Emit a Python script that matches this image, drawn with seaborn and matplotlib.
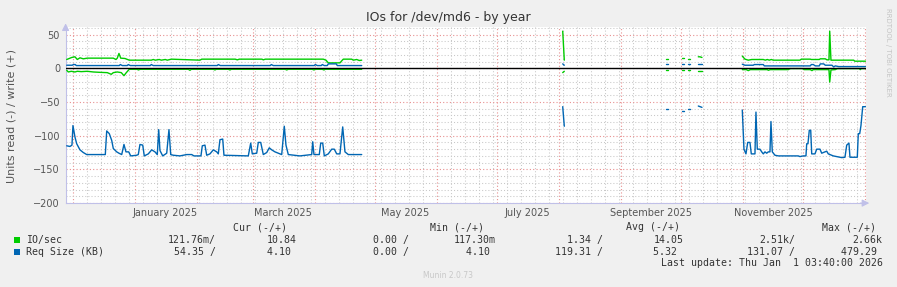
import matplotlib
matplotlib.use("Agg")
import matplotlib.pyplot as plt
import matplotlib.dates as mdates
from matplotlib.ticker import MultipleLocator
from matplotlib.patches import Rectangle
from matplotlib.transforms import blended_transform_factory
import seaborn as sns
import pandas as pd

# ---------------- data ----------------
title = "IOs for /dev/md6 - by year"
y_label = "Units read (-) / write (+)"
x_start = "2024-11-27 03:40"
x_end = "2026-01-01 03:40"
month_labels = ["January 2025", "March 2025", "May 2025",
                "July 2025", "September 2025", "November 2025"]
month_label_dates = ["2025-01-16", "2025-03-16", "2025-05-16",
                     "2025-07-16", "2025-09-16", "2025-11-16"]

# None marks a gap (unknown data) in the series
io_write = [
    ("2024-11-27 17:00", 13), ("2024-11-30 05:00", 16), ("2024-12-01 20:00", 17),
    ("2024-12-03 00:00", 13), ("2024-12-04 08:00", 15.5), ("2024-12-06 00:00", 14),
    ("2024-12-08 00:00", 15), ("2024-12-21 00:00", 15), ("2024-12-22 08:00", 13),
    ("2024-12-23 00:00", 15), ("2024-12-23 20:00", 22), ("2024-12-24 17:00", 15),
    ("2024-12-26 20:00", 14.5), ("2024-12-29 00:00", 12), ("2025-01-09 00:00", 12),
    ("2025-01-10 00:00", 13), ("2025-01-11 00:00", 12), ("2025-01-13 00:00", 13),
    ("2025-01-14 00:00", 12), ("2025-01-16 00:00", 13), ("2025-01-17 00:00", 12),
    ("2025-01-19 00:00", 13.5), ("2025-02-02 08:00", 12), ("2025-02-03 05:00", 13.5),
    ("2025-02-20 00:00", 13.5), ("2025-02-21 00:00", 12.5), ("2025-02-22 00:00", 13.5),
    ("2025-03-05 08:00", 13.5), ("2025-03-06 00:00", 12.5), ("2025-03-07 00:00", 13.5),
    ("2025-04-05 00:00", 13.5), ("2025-04-06 08:00", 12), ("2025-04-07 12:00", 8),
    ("2025-04-13 08:00", 8), ("2025-04-14 05:00", 11), ("2025-04-15 00:00", 13.5),
    ("2025-04-19 05:00", 13.5), ("2025-04-20 00:00", 12), ("2025-04-21 17:00", 13),
    ("2025-04-23 00:00", 11.5), ("2025-04-24 05:00", 12),
    None,
    ("2025-08-02 17:00", 55), ("2025-08-03 12:00", 12),
    None,
    ("2025-09-23 08:00", 13), ("2025-09-24 08:00", 13),
    None,
    ("2025-10-01 12:00", 14.5), ("2025-10-02 08:00", 14.5),
    None,
    ("2025-10-04 12:00", 13), ("2025-10-05 08:00", 13),
    None,
    ("2025-10-09 12:00", 17), ("2025-10-10 08:00", 17), ("2025-10-11 08:00", 16),
    None,
    ("2025-10-31 12:00", 18), ("2025-11-01 20:00", 13.5), ("2025-11-03 12:00", 12),
    ("2025-11-05 05:00", 13), ("2025-11-11 00:00", 13), ("2025-11-12 00:00", 12),
    ("2025-11-13 00:00", 13), ("2025-11-14 00:00", 12), ("2025-11-15 00:00", 13),
    ("2025-11-16 00:00", 12), ("2025-11-29 08:00", 12), ("2025-11-30 00:00", 13.5),
    ("2025-12-04 12:00", 13.5), ("2025-12-05 00:00", 13), ("2025-12-09 00:00", 13),
    ("2025-12-09 12:00", 14), ("2025-12-12 00:00", 14), ("2025-12-12 20:00", 12.5),
    ("2025-12-13 20:00", 12.5), ("2025-12-14 05:00", 55), ("2025-12-14 20:00", 12),
    ("2025-12-26 05:00", 12), ("2025-12-26 17:00", 10.5), ("2026-01-01 03:00", 10.5),
]

io_read = [
    ("2024-11-27 17:00", -3), ("2024-11-28 12:00", -5.5), ("2024-11-30 00:00", -4.5),
    ("2024-12-01 20:00", -5.5), ("2024-12-03 00:00", -4.5), ("2024-12-05 00:00", -5),
    ("2024-12-08 00:00", -4.5), ("2024-12-11 00:00", -5.5), ("2024-12-14 00:00", -6),
    ("2024-12-18 00:00", -6.5), ("2024-12-20 00:00", -9), ("2024-12-21 00:00", -6.5),
    ("2024-12-23 00:00", -5.5), ("2024-12-25 00:00", -6.5), ("2024-12-26 08:00", -11),
    ("2024-12-27 12:00", -6.5), ("2024-12-29 00:00", -1.5), ("2025-01-02 00:00", -1.5),
    ("2025-01-02 12:00", -2.5), ("2025-01-03 12:00", -1.5), ("2025-01-27 12:00", -1.5),
    ("2025-01-28 08:00", -3), ("2025-01-29 00:00", -1.5), ("2025-02-09 00:00", -1.5),
    ("2025-02-09 20:00", -2.5), ("2025-02-10 12:00", -1.5), ("2025-02-16 12:00", -1.5),
    ("2025-02-17 08:00", -2.5), ("2025-02-18 00:00", -1.5), ("2025-03-17 00:00", -1.5),
    ("2025-03-17 17:00", -2.5), ("2025-03-18 12:00", -1.5), ("2025-03-30 12:00", -1.5),
    ("2025-03-31 08:00", -2.5), ("2025-04-01 00:00", -1.5), ("2025-04-04 12:00", -1.5),
    ("2025-04-05 08:00", -2.5), ("2025-04-06 00:00", -1.5), ("2025-04-24 05:00", -1.5),
    None,
    ("2025-08-02 17:00", -6.5), ("2025-08-03 12:00", -4.5),
    None,
    ("2025-09-23 08:00", -2), ("2025-09-24 08:00", -2),
    None,
    ("2025-10-01 12:00", -2.5), ("2025-10-02 08:00", -2.5),
    None,
    ("2025-10-04 12:00", -2), ("2025-10-05 08:00", -2),
    None,
    ("2025-10-09 12:00", -4), ("2025-10-11 08:00", -4),
    None,
    ("2025-10-31 12:00", -2), ("2025-11-02 12:00", -2), ("2025-11-03 12:00", -3.5),
    ("2025-11-04 12:00", -2), ("2025-11-13 00:00", -2), ("2025-11-13 12:00", -3),
    ("2025-11-14 12:00", -2), ("2025-11-23 12:00", -2), ("2025-11-24 12:00", -0.5),
    ("2025-11-30 12:00", -0.5), ("2025-12-01 12:00", -2), ("2025-12-04 12:00", -2),
    ("2025-12-05 08:00", -3.5), ("2025-12-06 00:00", -2), ("2025-12-13 20:00", -2),
    ("2025-12-14 05:00", -20.5), ("2025-12-14 20:00", -2.5), ("2025-12-17 00:00", -2),
    ("2025-12-18 00:00", -0.5), ("2025-12-29 00:00", -0.5), ("2025-12-29 12:00", -2),
    ("2025-12-30 00:00", -0.5), ("2026-01-01 03:00", -0.5),
]

req_write = [
    ("2024-11-27 17:00", 4.5), ("2024-11-30 12:00", 4.5), ("2024-12-01 00:00", 5.5),
    ("2024-12-02 00:00", 5.5), ("2024-12-02 12:00", 4), ("2024-12-24 00:00", 4),
    ("2024-12-24 12:00", 5.5), ("2024-12-25 12:00", 4), ("2024-12-28 00:00", 4),
    ("2024-12-28 12:00", 5.5), ("2024-12-29 12:00", 4), ("2025-01-08 12:00", 4),
    ("2025-01-09 00:00", 5.5), ("2025-01-10 00:00", 4), ("2025-02-11 00:00", 4),
    ("2025-02-11 12:00", 5.5), ("2025-02-12 12:00", 4), ("2025-03-09 12:00", 4),
    ("2025-03-10 00:00", 5.5), ("2025-03-11 00:00", 4), ("2025-03-31 12:00", 4),
    ("2025-04-01 00:00", 5.5), ("2025-04-02 00:00", 4), ("2025-04-04 00:00", 4),
    ("2025-04-04 12:00", 5.5), ("2025-04-05 12:00", 4), ("2025-04-07 00:00", 4),
    ("2025-04-07 12:00", 6.5), ("2025-04-11 12:00", 6.5), ("2025-04-12 00:00", 4),
    ("2025-04-24 05:00", 4),
    None,
    ("2025-08-02 17:00", 6.5), ("2025-08-03 12:00", 4.5),
    None,
    ("2025-09-23 08:00", 6), ("2025-09-24 08:00", 6),
    None,
    ("2025-10-01 12:00", 6), ("2025-10-02 08:00", 6),
    None,
    ("2025-10-04 12:00", 6), ("2025-10-05 08:00", 6),
    None,
    ("2025-10-09 12:00", 7), ("2025-10-11 08:00", 7),
    None,
    ("2025-10-31 12:00", 6), ("2025-11-01 20:00", 4.5), ("2025-11-06 00:00", 4.5),
    ("2025-11-06 12:00", 5.5), ("2025-11-11 00:00", 5.5), ("2025-11-11 12:00", 3.5),
    ("2025-12-04 12:00", 3.5), ("2025-12-05 00:00", 5.5), ("2025-12-06 00:00", 5.5),
    ("2025-12-07 00:00", 3.5), ("2025-12-09 00:00", 3.5), ("2025-12-09 12:00", 6.5),
    ("2025-12-11 05:00", 6.5), ("2025-12-12 00:00", 4.5), ("2025-12-15 08:00", 4.5),
    ("2025-12-16 05:00", 2), ("2025-12-17 00:00", 3.5), ("2025-12-18 17:00", 2.5),
    ("2026-01-01 03:00", 2.5),
]

req_read = [
    ("2024-11-27 17:00", -115), ("2024-11-29 08:00", -116), ("2024-11-30 08:00", -114),
    ("2024-11-30 20:00", -85), ("2024-12-01 20:00", -102), ("2024-12-02 17:00", -112),
    ("2024-12-04 08:00", -121), ("2024-12-06 00:00", -125), ("2024-12-07 17:00", -128),
    ("2024-12-17 00:00", -128), ("2024-12-17 17:00", -93), ("2024-12-19 00:00", -97),
    ("2024-12-20 05:00", -107), ("2024-12-21 00:00", -119), ("2024-12-22 17:00", -124),
    ("2024-12-23 20:00", -126), ("2024-12-25 05:00", -128), ("2024-12-26 08:00", -113),
    ("2024-12-27 08:00", -124), ("2024-12-28 17:00", -124), ("2024-12-29 17:00", -130),
    ("2025-01-01 17:00", -129), ("2025-01-02 12:00", -128), ("2025-01-03 08:00", -113),
    ("2025-01-04 17:00", -114), ("2025-01-05 12:00", -130), ("2025-01-07 12:00", -127),
    ("2025-01-09 05:00", -121), ("2025-01-10 20:00", -124), ("2025-01-12 00:00", -128),
    ("2025-01-12 17:00", -91), ("2025-01-13 08:00", -122), ("2025-01-14 17:00", -130),
    ("2025-01-16 17:00", -126), ("2025-01-17 20:00", -91), ("2025-01-18 17:00", -128),
    ("2025-01-20 00:00", -129), ("2025-01-23 08:00", -130), ("2025-01-26 17:00", -128),
    ("2025-01-29 05:00", -128), ("2025-01-30 08:00", -130), ("2025-02-02 20:00", -130),
    ("2025-02-03 12:00", -115), ("2025-02-04 20:00", -114), ("2025-02-05 17:00", -129),
    ("2025-02-07 08:00", -127), ("2025-02-09 00:00", -121), ("2025-02-10 17:00", -124),
    ("2025-02-11 12:00", -127), ("2025-02-12 08:00", -106), ("2025-02-13 17:00", -105),
    ("2025-02-14 08:00", -129), ("2025-02-26 12:00", -130), ("2025-02-27 17:00", -111),
    ("2025-02-28 12:00", -127), ("2025-03-02 17:00", -126), ("2025-03-03 12:00", -110),
    ("2025-03-04 17:00", -110), ("2025-03-06 00:00", -128), ("2025-03-07 17:00", -125),
    ("2025-03-09 00:00", -118), ("2025-03-10 05:00", -121), ("2025-03-11 20:00", -124),
    ("2025-03-13 12:00", -126), ("2025-03-15 05:00", -128), ("2025-03-16 12:00", -86),
    ("2025-03-17 08:00", -114), ("2025-03-18 12:00", -128), ("2025-03-24 08:00", -130),
    ("2025-03-30 05:00", -128), ("2025-03-30 17:00", -109), ("2025-03-31 08:00", -128),
    ("2025-04-03 00:00", -128), ("2025-04-03 17:00", -111), ("2025-04-04 17:00", -111),
    ("2025-04-05 12:00", -130), ("2025-04-07 12:00", -127), ("2025-04-09 05:00", -120),
    ("2025-04-10 12:00", -120), ("2025-04-11 17:00", -127), ("2025-04-13 08:00", -127),
    ("2025-04-14 17:00", -87), ("2025-04-15 20:00", -124), ("2025-04-17 12:00", -128),
    ("2025-04-20 00:00", -128), ("2025-04-24 05:00", -128),
    None,
    ("2025-08-02 17:00", -57), ("2025-08-03 12:00", -86),
    None,
    ("2025-09-23 08:00", -60), ("2025-09-24 08:00", -60),
    None,
    ("2025-10-01 12:00", -64), ("2025-10-02 08:00", -64),
    None,
    ("2025-10-04 12:00", -60), ("2025-10-05 08:00", -60),
    None,
    ("2025-10-09 12:00", -56), ("2025-10-11 08:00", -58),
    None,
    ("2025-10-31 12:00", -62), ("2025-11-01 08:00", -120), ("2025-11-02 08:00", -127),
    ("2025-11-03 05:00", -110), ("2025-11-04 08:00", -110), ("2025-11-05 00:00", -127),
    ("2025-11-06 20:00", -127), ("2025-11-07 08:00", -65), ("2025-11-08 00:00", -120),
    ("2025-11-09 08:00", -120), ("2025-11-10 05:00", -124), ("2025-11-11 00:00", -127),
    ("2025-11-11 20:00", -124), ("2025-11-12 17:00", -126), ("2025-11-13 12:00", -124),
    ("2025-11-14 08:00", -124), ("2025-11-14 20:00", -79), ("2025-11-15 12:00", -124),
    ("2025-11-16 20:00", -129), ("2025-11-18 12:00", -130), ("2025-11-28 12:00", -130),
    ("2025-11-29 08:00", -131), ("2025-12-01 00:00", -130), ("2025-12-02 08:00", -130),
    ("2025-12-02 17:00", -112), ("2025-12-03 08:00", -112), ("2025-12-04 00:00", -92),
    ("2025-12-04 17:00", -92), ("2025-12-05 05:00", -127), ("2025-12-06 20:00", -127),
    ("2025-12-07 17:00", -120), ("2025-12-09 08:00", -120), ("2025-12-10 05:00", -126),
    ("2025-12-11 20:00", -124), ("2025-12-12 17:00", -123), ("2025-12-13 12:00", -127),
    ("2025-12-16 00:00", -130), ("2025-12-19 08:00", -132), ("2025-12-20 05:00", -132.5),
    ("2025-12-21 20:00", -132), ("2025-12-22 17:00", -114), ("2025-12-23 20:00", -111),
    ("2025-12-24 08:00", -132), ("2025-12-28 00:00", -132), ("2025-12-28 12:00", -97),
    ("2025-12-29 05:00", -97), ("2025-12-29 20:00", -85), ("2025-12-30 17:00", -57),
    ("2026-01-01 03:00", -57),
]

legend_names = ["IO/sec", "Req Size (KB)"]
legend_headers = ["Cur (-/+)", "Min (-/+)", "Avg (-/+)", "Max (-/+)"]
legend_io = ["121.76m/", "10.84", "0.00 /", "117.30m", "1.34 /", "14.05", "2.51k/", "2.66k"]
legend_req = ["54.35 /", "4.10 ", "0.00 /", "4.10 ", "119.31 /", "5.32 ", "131.07 /", "479.29 "]
last_update = "Last update: Thu Jan  1 03:40:00 2026"
green = "#00CC00"
blue = "#0066B3"

# ---------------- layout ----------------
W, H = 897, 287
sns.set_theme(style="white")
plt.rcParams["font.family"] = ["DejaVu Sans"]

fig = plt.figure(figsize=(W / 100, H / 100), dpi=100, facecolor="#F0F0F0")
px_per_unit = 0.6742
y_lo, y_hi = -200, 61.5
bot_px = 203.1
top_px = bot_px - (y_hi - y_lo) * px_per_unit
left_px, right_px = 65.6, 865.6
ax = fig.add_axes([left_px / W, 1 - bot_px / H, (right_px - left_px) / W, (bot_px - top_px) / H])
ax.set_facecolor("white")


def to_df(pairs):
    rows, seg = [], 0
    for p in pairs:
        if p is None:
            seg += 1
            continue
        rows.append((pd.Timestamp(p[0]), p[1], seg))
    return pd.DataFrame(rows, columns=["t", "v", "seg"])


for pairs, col in [(io_read, green), (io_write, green), (req_read, blue), (req_write, blue)]:
    sns.lineplot(data=to_df(pairs), x="t", y="v", units="seg", estimator=None,
                 color=col, lw=1.0, ax=ax, legend=False, sort=False, zorder=3)

ax.axhline(0, color="black", lw=1.0, zorder=4)

ax.set_xlim(pd.Timestamp(x_start), pd.Timestamp(x_end))
ax.set_ylim(y_lo, y_hi)
ax.set_xlabel("")
ax.set_ylabel("")

ax.xaxis.set_major_locator(mdates.MonthLocator())
ax.xaxis.set_minor_locator(mdates.WeekdayLocator(byweekday=mdates.SU))
ax.yaxis.set_major_locator(MultipleLocator(50))
ax.yaxis.set_minor_locator(MultipleLocator(10))
ax.set_axisbelow(True)
ax.grid(which="minor", color="#C8C8C8", ls=(0, (1, 2)), lw=0.75, zorder=0)
ax.grid(which="major", color="#E89090", ls=(0, (1, 2)), lw=0.8, zorder=1)

axis_col = "#C0C0E8"
for s in ["top", "right"]:
    ax.spines[s].set_visible(False)
for s in ["left", "bottom"]:
    ax.spines[s].set_color(axis_col)
    ax.spines[s].set_linewidth(0.8)

ax.tick_params(axis="x", which="both", labelbottom=False, length=2, direction="in", color="#CCCCCC")
ax.tick_params(axis="y", which="major", labelsize=7, labelcolor="#555555", length=2,
               direction="in", color="#E0A0A0", pad=4)
ax.tick_params(axis="y", which="minor", length=0)

trans = blended_transform_factory(ax.transData, ax.transAxes)
ylab_off = -(212.5 - bot_px) / (bot_px - top_px)
for d, lab in zip(month_label_dates, month_labels):
    ax.text(mdates.date2num(pd.Timestamp(d)), ylab_off, lab, transform=trans,
            ha="center", va="center", fontsize=7, color="#555555")

# axis arrows
ax.annotate("", xy=(0, 1.035), xytext=(0, 0.97), xycoords="axes fraction",
            arrowprops=dict(arrowstyle="-|>,head_length=0.35,head_width=0.18",
                            color=axis_col, lw=0.8), annotation_clip=False)
ax.annotate("", xy=(1.008, 0), xytext=(0.99, 0), xycoords="axes fraction",
            arrowprops=dict(arrowstyle="-|>,head_length=0.35,head_width=0.18",
                            color=axis_col, lw=0.8), annotation_clip=False)


def fx(x):
    return x / W


def fy(y):
    return 1 - y / H


fig.text(fx(448), fy(18), title, ha="center", va="center", fontsize=9, color="#333333")
fig.text(fx(12), fy(116), y_label, ha="center", va="center", rotation=90,
         fontsize=8, color="#555555")
fig.text(fx(888), fy(52), "RRDTOOL / TOBI OETIKER", ha="center", va="center",
         rotation=270, fontsize=5, color="#C4C4C4")

mono = dict(family="DejaVu Sans Mono", fontsize=7.1, color="#333333", va="center")
header_right = [287.3, 484.3, 680, 876]
for hx, htxt in zip(header_right, legend_headers):
    fig.text(fx(hx), fy(227.3), htxt, ha="right", **mono)

col_right = [216, 296.7, 409, 495.7, 602.7, 683.3, 795, 882.7]
for row_y, name, vals, col in [(240, legend_names[0], legend_io, green),
                               (251.7, legend_names[1], legend_req, blue)]:
    fig.patches.append(Rectangle((fx(14), fy(row_y + 3)), 6 / W, 6 / H,
                                 transform=fig.transFigure, facecolor=col,
                                 edgecolor="none"))
    fig.text(fx(26), fy(row_y), name, ha="left", **mono)
    for cx, v in zip(col_right, vals):
        fig.text(fx(cx), fy(row_y), v, ha="right", **mono)

fig.text(fx(882.7), fy(263.3), last_update, ha="right", **mono)
fig.text(fx(448), fy(276), "Munin 2.0.73", ha="center", va="center",
         fontsize=5.5, color="#C8C8C8")

fig.savefig("out.png", dpi=100, facecolor=fig.get_facecolor())
